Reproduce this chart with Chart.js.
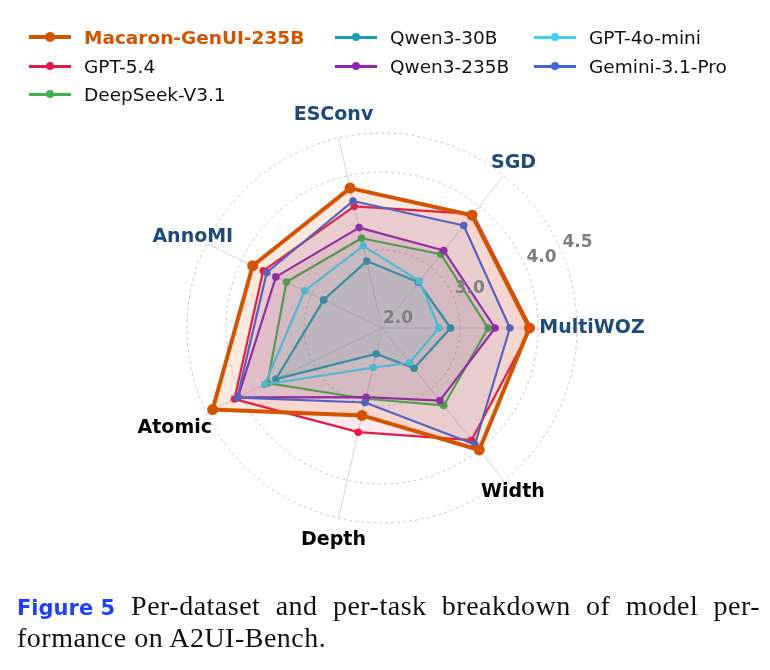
<!DOCTYPE html>
<html>
<head>
<meta charset="utf-8">
<script src="https://cdn.jsdelivr.net/npm/chart.js@4.4.1/dist/chart.umd.min.js"></script>
<style>
body{margin:0;width:770px;height:670px;background:#fff;position:relative;overflow:hidden;font-family:"DejaVu Sans",sans-serif;}
#radar{position:absolute;left:0;top:0;}
.item{position:absolute;height:24px;display:flex;align-items:center;font-size:18.5px;color:#111;white-space:nowrap;}
.mk{position:relative;width:42px;height:24px;margin-right:13px;}
.mk .ln{position:absolute;left:0;right:0;top:50%;}
.mk .dt{position:absolute;left:50%;top:50%;border-radius:50%;}
.cap{position:absolute;left:17px;width:743px;font-family:"Liberation Serif",serif;font-size:28px;letter-spacing:0.5px;line-height:32px;color:#111;white-space:nowrap;}
.cap b{display:inline-block;font-family:"DejaVu Sans",sans-serif;font-size:21px;letter-spacing:0;color:#1f3fff;margin-right:16px;}
</style>
</head>
<body>
<canvas id="radar" width="770" height="670"></canvas>
<div id="legend"></div>
<div class="cap" id="cap1" style="top:590px;text-align:justify;text-align-last:justify;"><b>Figure 5</b>Per-dataset and per-task breakdown of model per-</div>
<div class="cap" id="cap2" style="top:622px;">formance on A2UI-Bench.</div>
<script>
// categories in the order of the original plot (counter-clockwise from the right)
var categories = ['MultiWOZ', 'SGD', 'ESConv', 'AnnoMI', 'Atomic', 'Depth', 'Width'];
var datasetAxes = ['MultiWOZ', 'SGD', 'ESConv', 'AnnoMI'];
var radialTicks = [2.0, 3.0, 4.0, 4.5];

var models = ['Macaron-GenUI-235B', 'GPT-5.4', 'DeepSeek-V3.1', 'Qwen3-30B', 'Qwen3-235B', 'GPT-4o-mini', 'Gemini-3.1-Pro'];
var macaron = [3.89, 3.85, 3.84, 3.84, 4.41, 3.15, 4.00];
var gpt54 = [3.91, 3.87, 3.60, 3.69, 4.10, 3.37, 3.84];
var deepseek = [3.36, 3.21, 3.18, 3.36, 3.63, 2.93, 3.27];
var qwen30 = [2.88, 2.75, 2.88, 2.83, 3.51, 2.34, 2.66];
var qwen235 = [3.45, 3.27, 3.32, 3.51, 4.05, 2.91, 3.19];
var gpt4omini = [2.73, 2.77, 3.08, 3.10, 3.67, 2.52, 2.57];
var gemini = [3.64, 3.68, 3.67, 3.64, 4.06, 2.98, 3.91];

var colores = ['#d35400', '#e6194b', '#3cb44b', '#17a0b4', '#8e24b9', '#40d0f0', '#4363d8'];
var labelDist = [210, 211, 218, 210, 230, 218, 210];

// chart.js goes clockwise, the original goes counter-clockwise
var orden = [0, 6, 5, 4, 3, 2, 1];
function girar(arr) { return orden.map(i => arr[i]); }

function hexA(hex, a) {
    let n = parseInt(hex.slice(1), 16);
    return 'rgba(' + (n >> 16) + ',' + ((n >> 8) & 255) + ',' + (n & 255) + ',' + a + ')';
}

var series = [macaron, gpt54, deepseek, qwen30, qwen235, gpt4omini, gemini];
var dibujo = [0, 6, 5, 4, 3, 2, 1]; // lower = on top
var datasets = [];
series.forEach((s, i) => {
    let main = i === 0;
    datasets.push({
        label: models[i],
        data: girar(s),
        borderColor: colores[i],
        backgroundColor: hexA(colores[i], main ? 0.13 : 0.09),
        pointBackgroundColor: colores[i],
        pointBorderColor: colores[i],
        pointBorderWidth: 0,
        pointRadius: main ? 5.5 : 3.8,
        borderWidth: main ? 4 : 2.2,
        borderJoinStyle: 'round',
        fill: true,
        order: dibujo[i]
    });
});

var textos = {
    id: 'textos',
    afterDatasetsDraw(chart) {
        let r = chart.scales.r;
        let ctx = chart.ctx;
        ctx.save();
        ctx.textAlign = 'center';
        ctx.textBaseline = 'middle';
        ctx.font = 'bold 19px "DejaVu Sans"';
        categories.forEach((c, k) => {
            let j = orden.indexOf(k);
            let p = r.getPointPosition(j, labelDist[k]);
            ctx.fillStyle = datasetAxes.includes(c) ? '#1f4a7c' : '#000000';
            ctx.fillText(c, p.x, p.y);
        });
        ctx.font = 'bold 17px "DejaVu Sans"';
        ctx.fillStyle = '#7f7f7f';
        let ang = 23 * Math.PI / 180;
        radialTicks.forEach(v => {
            let d = r.getDistanceFromCenterForValue(v);
            ctx.fillText(v.toFixed(1), r.xCenter + d * Math.cos(ang) + 16, r.yCenter - d * Math.sin(ang) - 9);
        });
        ctx.restore();
    }
};

new Chart(document.getElementById('radar').getContext('2d'), {
    type: 'radar',
    data: { labels: girar(categories), datasets: datasets },
    options: {
        responsive: false,
        animation: false,
        layout: { padding: { left: 187, right: 193, top: 133, bottom: 147 } },
        plugins: { legend: { display: false }, tooltip: { enabled: false } },
        elements: { line: { tension: 0 } },
        scales: {
            r: {
                min: 2,
                max: 4.5,
                startAngle: 90,
                afterBuildTicks: s => { s.ticks = radialTicks.map(v => ({ value: v })); },
                ticks: { display: false },
                pointLabels: { display: false },
                grid: { circular: true, color: '#c8c8c8', lineWidth: 1 },
                border: { dash: [3, 3] },
                angleLines: { color: '#d6d6d6', lineWidth: 1 }
            }
        }
    },
    plugins: [textos]
});

// legend, 3 columns filled column by column like the original
var legCols = [29, 335, 534];
var legRows = [37, 66, 94];
var colOf = [0, 0, 0, 1, 1, 2, 2];
var rowOf = [0, 1, 2, 0, 1, 0, 1];
var leg = document.getElementById('legend');
models.forEach((m, i) => {
    let main = i === 0;
    let it = document.createElement('div');
    it.className = 'item';
    it.style.left = legCols[colOf[i]] + 'px';
    it.style.top = (legRows[rowOf[i]] - 12) + 'px';
    let lw = main ? 4 : 3;
    let dr = main ? 5 : 4;
    it.innerHTML = '<div class="mk"><div class="ln" style="height:' + lw + 'px;margin-top:-' + (lw / 2) + 'px;background:' + colores[i] + '"></div>' +
        '<div class="dt" style="width:' + (dr * 2) + 'px;height:' + (dr * 2) + 'px;margin-left:-' + dr + 'px;margin-top:-' + dr + 'px;background:' + colores[i] + '"></div></div>' +
        '<span' + (main ? ' style="font-weight:bold;color:' + colores[i] + '"' : '') + '>' + m + '</span>';
    leg.appendChild(it);
});
</script>
</body>
</html>
